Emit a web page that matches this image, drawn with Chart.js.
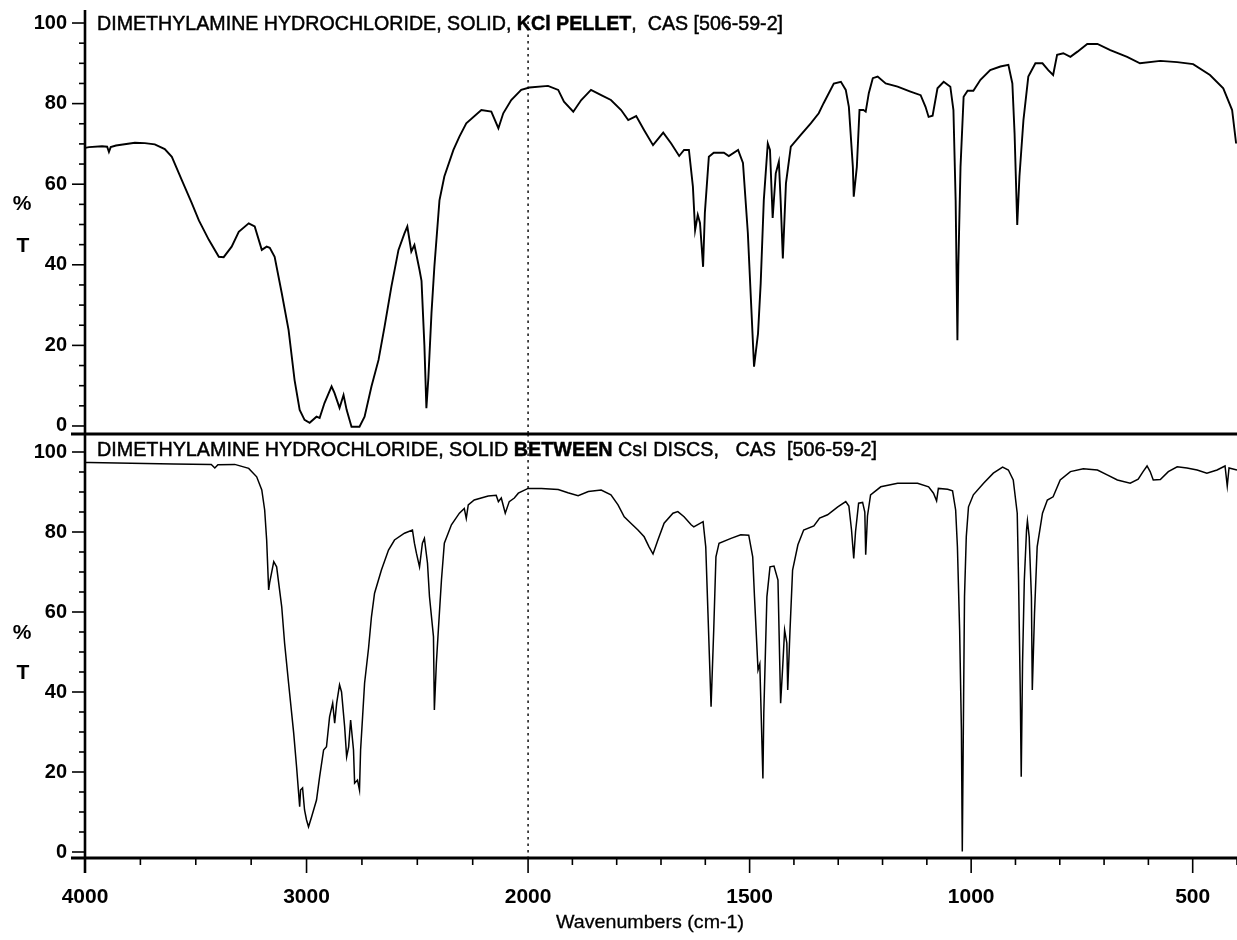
<!DOCTYPE html>
<html>
<head>
<meta charset="utf-8">
<script src="https://cdn.jsdelivr.net/npm/chart.js@4.4.1/dist/chart.umd.min.js"></script>
<style>
  html, body { margin: 0; padding: 0; background: #fff; }
  #wrap { position: relative; width: 1237px; height: 940px; overflow: hidden; background: #fff; }
  canvas { position: absolute; left: 0; }
  #c1 { top: 0; width: 1237px; height: 440px; }
  #c2 { top: 420px; width: 1237px; height: 520px; }
</style>
</head>
<body>
<div id="wrap">
  <canvas id="c1" width="1237" height="440"></canvas>
  <canvas id="c2" width="1237" height="520"></canvas>
</div>
<script>
// ---------------- DATA ----------------
// Top spectrum: solid, KCl pellet
const kclWavenumbers = [4000,3982,3923,3900,3892,3884,3860,3775,3730,3685,3640,3608,3563,3518,3486,3441,3396,3374,3338,3306,3261,3234,3202,3180,3166,3144,3112,3081,3054,3031,3009,2986,2955,2941,2919,2887,2874,2851,2833,2819,2797,2761,2738,2707,2675,2648,2617,2585,2558,2545,2527,2513,2490,2481,2468,2459,2450,2436,2423,2400,2378,2337,2310,2279,2211,2166,2134,2112,2076,2031,1997,1955,1932,1919,1898,1880,1858,1835,1813,1790,1774,1756,1738,1718,1695,1677,1659,1648,1637,1628,1623,1617,1612,1605,1601,1592,1581,1558,1547,1526,1515,1504,1497,1490,1481,1475,1468,1459,1454,1448,1441,1434,1430,1425,1418,1407,1385,1362,1344,1333,1310,1294,1283,1276,1267,1265,1258,1252,1243,1238,1231,1222,1211,1193,1166,1137,1114,1103,1096,1087,1076,1062,1047,1040,1035,1031,1029,1024,1017,1008,995,979,957,934,916,907,902,896,891,882,871,855,839,826,815,806,792,776,760,738,715,686,648,619,573,535,499,461,431,411,402];
const kclTransmittance = [69.0,69.2,69.4,69.3,68.0,69.2,69.6,70.3,70.2,69.9,68.7,66.8,61.0,55.3,51.0,46.2,42.0,41.9,44.5,48.2,50.3,49.5,43.7,44.5,44.2,42.0,33.0,23.8,11.4,4.0,1.5,0.8,2.3,2.0,5.7,9.8,8.2,4.5,7.7,4.0,-0.2,-0.2,2.3,9.8,16.4,24.6,34.6,43.7,47.8,49.5,43.3,44.9,38.7,36.0,20.0,4.4,12.0,28.0,39.5,56.0,61.9,68.5,71.8,75.1,78.4,78.0,73.9,77.6,80.9,83.4,84.0,84.4,83.4,80.5,78.0,80.9,83.4,82.1,80.9,78.4,75.9,76.9,73.4,69.7,72.8,70.1,67.0,68.5,68.5,59.4,48.6,52.4,50.4,39.5,52.9,66.8,67.8,67.8,67.0,68.5,65.3,47.9,31.3,14.7,23.0,35.4,56.0,70.1,68.5,51.6,62.7,65.6,56.0,41.6,60.2,69.3,72.2,75.1,77.6,80.1,85.0,85.4,83.4,79.2,64.3,56.9,64.3,78.4,78.4,78.0,82.6,86.3,86.7,85.0,84.2,83.0,82.1,79.2,76.7,77.0,83.8,85.4,84.2,78.4,56.0,21.3,39.5,64.3,81.7,83.2,83.2,85.9,88.3,89.2,89.6,85.0,72.6,49.9,61.9,75.9,86.7,90.0,90.0,88.3,87.1,92.1,92.5,91.6,92.9,94.8,94.8,93.3,91.6,90.0,90.6,90.3,89.8,87.1,83.8,78.4,70.1];

// Bottom spectrum: solid between CsI discs
const csiWavenumbers = [4000,3982,3600,3430,3414,3400,3324,3261,3225,3202,3189,3180,3171,3166,3148,3135,3112,3099,3081,3058,3045,3031,3027,3018,3009,3000,2991,2977,2955,2941,2923,2910,2896,2882,2873,2864,2851,2842,2828,2819,2810,2801,2788,2783,2770,2761,2756,2747,2738,2720,2707,2693,2662,2630,2603,2558,2522,2513,2504,2490,2477,2468,2454,2445,2427,2423,2414,2405,2391,2378,2346,2310,2288,2279,2270,2243,2180,2144,2134,2121,2103,2085,2062,2044,2000,1970,1932,1910,1887,1864,1835,1813,1797,1783,1768,1752,1738,1727,1718,1707,1693,1673,1662,1648,1632,1626,1605,1599,1594,1587,1581,1576,1569,1542,1520,1502,1493,1489,1481,1477,1470,1468,1461,1454,1445,1436,1432,1430,1425,1421,1416,1414,1409,1403,1391,1378,1355,1342,1324,1301,1283,1276,1270,1265,1261,1254,1245,1240,1238,1234,1227,1204,1166,1121,1096,1085,1078,1074,1053,1042,1035,1031,1026,1022,1020,1017,1015,1011,1006,995,972,950,929,916,905,896,893,889,887,884,880,875,873,869,864,862,857,851,839,828,815,799,776,747,715,693,670,641,623,612,603,596,589,573,555,535,513,490,468,445,427,422,418,400];
const csiTransmittance = [97.4,97.4,97.0,96.9,96.0,96.8,96.9,95.9,93.8,90.5,85.5,78.0,65.5,67.5,72.6,71.3,61.3,52.2,42.2,29.7,21.3,11.3,15.5,16.0,10.5,8.0,6.3,8.8,13.0,18.8,25.5,26.3,33.8,37.2,32.2,37.2,41.8,40.0,31.3,23.8,26.3,33.0,25.5,17.2,18.0,15.5,25.5,33.8,42.2,51.0,58.8,64.7,70.5,75.5,78.0,79.7,80.5,77.2,74.7,71.3,77.2,78.4,72.2,63.8,53.8,35.5,47.2,55.5,68.0,77.2,81.8,84.7,85.9,83.4,86.8,88.0,89.0,89.2,87.6,88.5,84.7,87.6,88.5,89.7,90.9,90.9,90.6,89.8,89.1,90.1,90.5,89.3,86.8,83.8,82.2,80.5,78.8,76.3,74.5,78.0,82.2,84.7,85.1,83.8,81.8,81.3,82.6,76.3,59.7,36.3,55.5,73.8,77.2,78.4,79.3,79.2,73.8,63.8,45.5,47.0,18.4,34.7,63.8,71.3,71.5,68.0,47.2,37.2,47.0,55.5,52.2,40.5,55.0,70.5,76.8,80.5,81.5,83.5,84.3,86.3,87.6,86.5,80.5,73.4,80.0,87.2,87.4,85.0,74.3,84.0,89.3,91.3,92.2,92.2,91.3,89.7,87.8,90.9,90.7,90.3,85.5,76.3,55.5,30.5,0.1,38.8,63.8,78.8,86.3,89.3,92.2,94.7,96.2,95.5,93.0,84.7,68.0,38.8,18.8,47.2,68.0,80.5,82.8,78.8,63.8,40.5,59.7,76.3,84.7,88.0,88.8,93.0,95.1,95.8,95.5,94.3,93.0,92.2,93.2,95.1,96.5,95.1,93.0,93.1,95.1,96.3,96.0,95.5,94.7,95.5,96.5,91.5,96.0,95.5,96.0];

// Axis tick values / labels
const majorWavenumberTicks = [4000, 3000, 2000, 1500, 1000, 500];
const transmittanceTicks = [0, 20, 40, 60, 80, 100];
const kclTitle = [
  { text: 'DIMETHYLAMINE HYDROCHLORIDE, SOLID, ', bold: false },
  { text: 'KCl PELLET', bold: true },
  { text: ',  CAS [506-59-2]', bold: false }
];
const csiTitle = [
  { text: 'DIMETHYLAMINE HYDROCHLORIDE, SOLID ', bold: false },
  { text: 'BETWEEN', bold: true },
  { text: ' CsI DISCS,   CAS  [506-59-2]', bold: false }
];
const xAxisTitle = 'Wavenumbers (cm-1)';
const yAxisTitle = ['%', 'T'];

// ---------------- HELPERS ----------------
const FAMILY = "'Liberation Sans', Arial, Helvetica, sans-serif";
// IR spectra use a 2x expanded scale below 2000 cm-1
function wnToPos(w) { return w >= 2000 ? 4000 - w : 2000 + 2 * (2000 - w); }
function posToWn(p) { return p <= 2000 ? 4000 - p : 2000 - (p - 2000) / 2; }

function minorWavenumbers() {
  const out = [];
  for (let w = 4000; w >= 2000; w -= 250) out.push(w);
  for (let w = 1900; w >= 400; w -= 100) out.push(w);
  return out;
}

function drawFitted(ctx, segs, x, y, width, size, thicken) {
  let total = 0;
  const ws = segs.map(s => {
    ctx.font = (s.bold ? 'bold ' : '') + size + 'px ' + FAMILY;
    const w = ctx.measureText(s.text).width;
    total += w;
    return w;
  });
  const sx = width / total;
  ctx.save();
  ctx.translate(x, y);
  ctx.scale(sx, 1);
  ctx.fillStyle = '#000';
  ctx.strokeStyle = '#000';
  ctx.lineWidth = thicken || 0;
  ctx.textBaseline = 'middle';
  ctx.textAlign = 'left';
  let cx = 0;
  segs.forEach((s, i) => {
    ctx.font = (s.bold ? 'bold ' : '') + size + 'px ' + FAMILY;
    ctx.fillText(s.text, cx, 0);
    if (thicken) ctx.strokeText(s.text, cx, 0);
    cx += ws[i];
  });
  ctx.restore();
}

const framePlugin = {
  id: 'spectrumFrame',
  beforeDatasetsDraw(chart, args, o) {
    const ctx = chart.ctx, a = chart.chartArea, xs = chart.scales.x;
    const xd = xs.getPixelForValue(wnToPos(2000));
    ctx.save();
    ctx.strokeStyle = '#000';
    ctx.lineWidth = 1.4;
    ctx.setLineDash([2.5, 4]);
    ctx.beginPath();
    ctx.moveTo(xd, a.top + o.dotInset);
    ctx.lineTo(xd, a.bottom);
    ctx.stroke();
    ctx.restore();
  },
  afterDraw(chart, args, o) {
    const ctx = chart.ctx, a = chart.chartArea, xs = chart.scales.x, ys = chart.scales.y;
    ctx.save();
    ctx.strokeStyle = '#000';
    ctx.fillStyle = '#000';
    ctx.lineCap = 'butt';
    // y axis line
    ctx.lineWidth = 2.6;
    ctx.beginPath();
    ctx.moveTo(a.left, a.top);
    ctx.lineTo(a.left, a.bottom + o.axisBelow);
    ctx.stroke();
    // bottom frame line
    ctx.lineWidth = 3;
    ctx.beginPath();
    ctx.moveTo(a.left - 14, a.bottom);
    ctx.lineTo(a.right, a.bottom);
    ctx.stroke();
    // y tick marks
    ctx.lineWidth = 1.6;
    for (let v = 0; v <= 100; v += 5) {
      const y = ys.getPixelForValue(v);
      const len = v % 20 === 0 ? 13 : 6;
      ctx.beginPath();
      ctx.moveTo(a.left - len, y);
      ctx.lineTo(a.left, y);
      ctx.stroke();
    }
    // x tick marks
    if (o.xTicks) {
      minorWavenumbers().forEach(w => {
        const x = xs.getPixelForValue(wnToPos(w));
        if (x > a.right + 0.5) return;
        const len = majorWavenumberTicks.includes(w) ? 15 : 7;
        ctx.beginPath();
        ctx.moveTo(x, a.bottom);
        ctx.lineTo(x, a.bottom + len);
        ctx.stroke();
      });
      drawFitted(ctx, [{ text: xAxisTitle, bold: false }], o.xTitleX, o.xTitleY, o.xTitleW, 19, 0.3);
    }
    // "%" and "T"
    ctx.font = 'bold 21px ' + FAMILY;
    ctx.textAlign = 'center';
    ctx.textBaseline = 'middle';
    ctx.fillText(yAxisTitle[0], 22, o.pctY);
    ctx.fillText(yAxisTitle[1], 23, o.tY);
    ctx.restore();
    // panel title
    drawFitted(ctx, o.title, o.titleX, o.titleY, o.titleW, 21, 0.5);
  }
};

function noPad(s) { s.paddingTop = 0; s.paddingBottom = 0; s.paddingLeft = 0; s.paddingRight = 0; }

function makePanel(id, wns, ts, cfg) {
  return new Chart(document.getElementById(id), {
    type: 'line',
    data: {
      datasets: [{
        data: wns.map((w, i) => ({ x: wnToPos(w), y: ts[i] })),
        borderColor: '#000',
        borderWidth: cfg.lineWidth,
        pointRadius: 0,
        tension: 0,
        fill: false
      }]
    },
    options: {
      responsive: false,
      animation: false,
      events: [],
      layout: { padding: { top: cfg.padTop, bottom: cfg.padBottom, left: 0, right: 0 } },
      plugins: {
        legend: { display: false },
        tooltip: { enabled: false },
        spectrumFrame: cfg.frame
      },
      scales: {
        x: {
          type: 'linear',
          min: 0,
          max: wnToPos(400),
          grid: { display: false, drawTicks: false },
          border: { display: false },
          afterBuildTicks: s => { s.ticks = majorWavenumberTicks.map(w => ({ value: wnToPos(w) })); },
          ticks: {
            display: cfg.showX,
            autoSkip: false,
            maxRotation: 0,
            padding: 27,
            color: '#000',
            font: { family: FAMILY, size: 21, weight: 'bold' },
            callback: v => String(Math.round(posToWn(v)))
          },
          afterFit: s => { s.height = cfg.xHeight; noPad(s); }
        },
        y: {
          type: 'linear',
          min: cfg.ymin,
          max: cfg.ymax,
          grid: { display: false, drawTicks: false },
          border: { display: false },
          afterBuildTicks: s => { s.ticks = transmittanceTicks.map(v => ({ value: v })); },
          ticks: {
            padding: 18,
            color: '#000',
            font: { family: FAMILY, size: 20, weight: 'bold' },
            callback: v => String(v)
          },
          afterFit: s => { s.width = 85; noPad(s); }
        }
      }
    },
    plugins: [framePlugin]
  });
}

makePanel('c1', kclWavenumbers, kclTransmittance, {
  lineWidth: 1.9, padTop: 10, padBottom: 6, xHeight: 0, showX: false,
  ymin: -1.99, ymax: 103.23,
  frame: { dotInset: 5, axisBelow: 0, xTicks: false, title: kclTitle,
           titleX: 97, titleY: 24, titleW: 686, pctY: 204, tY: 246 }
});

makePanel('c2', csiWavenumbers, csiTransmittance, {
  lineWidth: 1.5, padTop: 14, padBottom: 0, xHeight: 82, showX: true,
  ymin: -1.5, ymax: 104.5,
  frame: { dotInset: 0, axisBelow: 15, xTicks: true, title: csiTitle,
           titleX: 97, titleY: 30.5, titleW: 780, pctY: 213, tY: 253,
           xTitleX: 556, xTitleY: 503, xTitleW: 188 }
});
</script>
</body>
</html>
